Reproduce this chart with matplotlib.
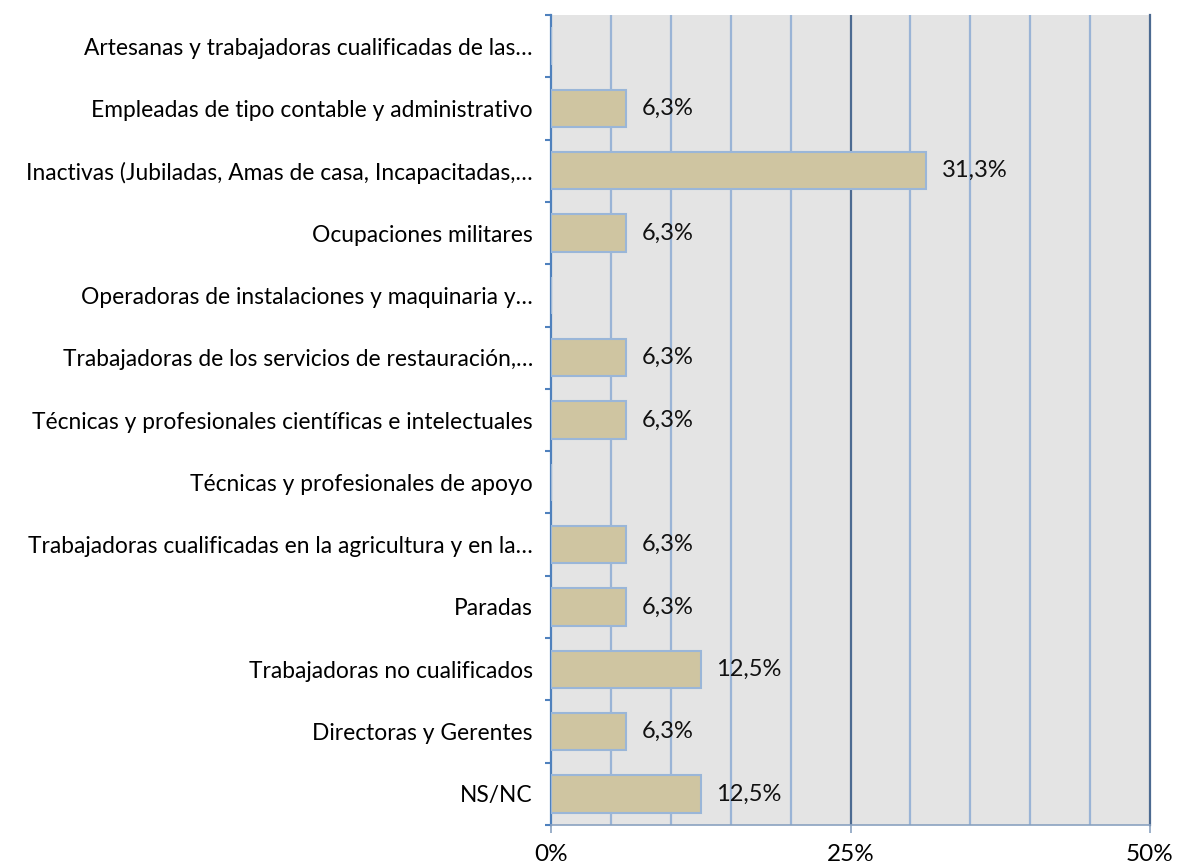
import numpy as np
import matplotlib.pyplot as plt

plt.rcParams['font.family'] = ['Lato', 'DejaVu Sans']

categories = [
    'Artesanas y trabajadoras cualificadas de las…',
    'Empleadas de tipo contable y administrativo',
    'Inactivas (Jubiladas, Amas de casa, Incapacitadas,…',
    'Ocupaciones militares',
    'Operadoras de instalaciones y maquinaria y…',
    'Trabajadoras de los servicios de restauración,…',
    'Técnicas y profesionales científicas e intelectuales',
    'Técnicas y profesionales de apoyo',
    'Trabajadoras cualificadas en la agricultura y en la…',
    'Paradas',
    'Trabajadoras no cualificados',
    'Directoras y Gerentes',
    'NS/NC',
]
values = [0, 6.3, 31.3, 6.3, 0, 6.3, 6.3, 0, 6.3, 6.3, 12.5, 6.3, 12.5]
xticks = [0, 25, 50]
xticklabels = ['0%', '25%', '50%']

fig = plt.figure(figsize=(11.77, 8.67), dpi=100)
ax = fig.add_axes([551 / 1177, 42 / 867, 599 / 1177, 810 / 867])
ax.set_facecolor('#e4e4e4')

n = len(categories)
y = np.arange(n)
ax.barh(y, values, height=0.6, color='#cfc5a1', edgecolor='#9ab6d8',
        linewidth=1.5, zorder=3)

for yi, v in zip(y, values):
    if v > 0:
        ax.text(v + 1.3, yi, ('%.1f%%' % v).replace('.', ','),
                va='center', ha='left', fontsize=17, color='#111111', zorder=4)

# vertical gridlines
for g in range(5, 50, 5):
    c = '#4c6a91' if g == 25 else '#9ab4d6'
    ax.axvline(g, color=c, lw=1.6, zorder=1)

ax.set_xlim(0, 50)
ax.set_ylim(n - 0.5, -0.5)

ax.set_yticks(y)
ax.set_yticklabels(categories, fontsize=16.4)
ax.set_yticks(np.arange(-0.5, n, 1), minor=True)
ax.tick_params(axis='y', which='major', length=0, pad=13)
ax.tick_params(axis='y', which='minor', length=4, width=1.5, color='#4f81bd')

ax.set_xticks(xticks)
ax.set_xticklabels(xticklabels, fontsize=17.5)
ax.tick_params(axis='x', length=6, width=1.2, color='#8aa2c0', pad=8)

ax.spines['top'].set_visible(False)
ax.spines['left'].set_color('#4f81bd')
ax.spines['left'].set_linewidth(1.6)
ax.spines['right'].set_color('#4c6a91')
ax.spines['right'].set_linewidth(1.6)
ax.spines['bottom'].set_color('#8aa2c0')
ax.spines['bottom'].set_linewidth(1.2)

fig.savefig('out.png', dpi=100, facecolor='white')
